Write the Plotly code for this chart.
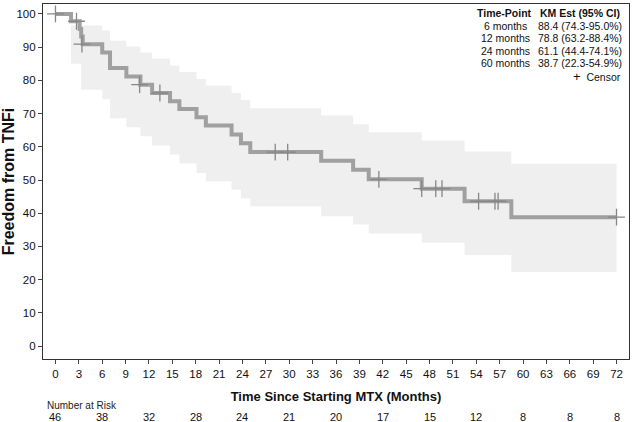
import plotly.graph_objects as go

# --- Kaplan-Meier Schaetzung ---
zeit = [0, 2.0, 3.1, 3.3, 3.5, 6.0, 7.0, 9.1, 10.9, 12.4, 14.7, 15.9, 18.1, 19.3,
        22.6, 23.8, 25.0, 34.1, 38.2, 40.2, 47.0, 52.5, 58.5, 72.0]
ueberleben = [100, 97.8, 95.5, 93.2, 90.9, 88.4, 83.7, 81.2, 78.7, 76.2, 73.7, 71.4,
              68.9, 66.4, 63.7, 61.1, 58.4, 55.8, 53.1, 50.2, 47.4, 43.6, 38.8, 38.8]
ci_unten = [100, 85.0, 85.0, 77.2, 77.2, 74.3, 68.6, 65.9, 63.2, 60.4, 57.7, 55.0,
            52.1, 49.6, 47.1, 44.4, 42.1, 39.1, 36.6, 33.9, 31.1, 27.4, 22.3, 22.3]
ci_oben = [100, 96.5, 96.5, 96.5, 96.5, 95.0, 91.9, 90.2, 88.4, 86.5, 84.5, 82.5,
           80.4, 78.4, 76.2, 74.1, 71.6, 69.4, 66.8, 64.4, 61.9, 58.6, 54.9, 54.9]

# Zensierungen
zens_zeit = [0, 2.7, 3.4, 10.8, 13.4, 28.2, 29.8, 41.5, 47.0, 48.8, 49.6, 54.3, 56.4, 56.8, 72.0]
zens_wert = [100, 97.8, 90.9, 78.7, 76.2, 58.4, 58.4, 50.2, 47.4, 47.4, 47.4, 43.6, 43.6, 43.6, 38.8]

# Number at Risk
risk_zeit = [0, 6, 12, 18, 24, 30, 36, 42, 48, 54, 60, 66, 72]
risk_n = [46, 38, 32, 28, 24, 21, 20, 17, 15, 12, 8, 8, 8]

# Tabelle oben rechts
tab_punkt = ["6 months", "12 months", "24 months", "60 months"]
tab_est = ["88.4 (74.3-95.0%)", "78.8 (63.2-88.4%)", "61.1 (44.4-74.1%)", "38.7 (22.3-54.9%)"]

FONT = "Arial, Liberation Sans, sans-serif"

fig = go.Figure()

# Konfidenzband
fig.add_trace(go.Scatter(x=zeit, y=ci_unten, mode="lines", line=dict(width=0, shape="hv"),
                         hoverinfo="skip", showlegend=False))
fig.add_trace(go.Scatter(x=zeit, y=ci_oben, mode="lines", line=dict(width=0, shape="hv"),
                         fill="tonexty", fillcolor="rgb(239,239,239)",
                         hoverinfo="skip", showlegend=False))

# KM-Kurve
fig.add_trace(go.Scatter(x=zeit, y=ueberleben, mode="lines",
                         line=dict(color="rgb(160,160,160)", width=4, shape="hv"),
                         showlegend=False))

# Zensierungen
fig.add_trace(go.Scatter(x=zens_zeit, y=zens_wert, mode="markers",
                         marker=dict(symbol="cross-thin", size=12,
                                     line=dict(color="rgb(135,135,135)", width=1.3)),
                         showlegend=False))

annot = []
# Tabelle
tab_font = dict(size=10.5, family=FONT, color="#111")
zeilen_y = [0.975, 0.939, 0.904, 0.869, 0.834]
annot.append(dict(x=0.788, y=zeilen_y[0], xref="paper", yref="paper", text="<b>Time-Point</b>",
                  showarrow=False, xanchor="center", yanchor="middle", font=tab_font))
annot.append(dict(x=0.916, y=zeilen_y[0], xref="paper", yref="paper", text="<b>KM Est (95% CI)</b>",
                  showarrow=False, xanchor="center", yanchor="middle", font=tab_font))
for i in range(4):
    annot.append(dict(x=0.790, y=zeilen_y[i + 1], xref="paper", yref="paper", text=tab_punkt[i],
                      showarrow=False, xanchor="center", yanchor="middle", font=tab_font))
    annot.append(dict(x=0.916, y=zeilen_y[i + 1], xref="paper", yref="paper", text=tab_est[i],
                      showarrow=False, xanchor="center", yanchor="middle", font=tab_font))
annot.append(dict(x=0.990, y=0.797, xref="paper", yref="paper", text="<span style='font-size:13px'>+</span>  Censor",
                  showarrow=False, xanchor="right", yanchor="middle", font=tab_font))

# Number at Risk
annot.append(dict(x=-1.3, y=-0.132, xref="x", yref="paper", text="Number at Risk",
                  showarrow=False, xanchor="left", yanchor="middle",
                  font=dict(size=10, family=FONT, color="#222")))
for t, n in zip(risk_zeit, risk_n):
    annot.append(dict(x=t, y=-0.162, xref="x", yref="paper", text=str(n),
                      showarrow=False, xanchor="center", yanchor="middle",
                      font=dict(size=11, family=FONT, color="#111")))

fig.update_layout(
    width=633,
    height=422,
    margin=dict(l=43, r=4, t=4, b=63),
    paper_bgcolor="white",
    plot_bgcolor="white",
    font=dict(family=FONT, size=11.5, color="#111"),
    annotations=annot,
    xaxis=dict(
        range=[-1.6, 73.6],
        tickmode="array",
        tickvals=list(range(0, 73, 3)),
        ticks="outside",
        ticklen=4,
        tickcolor="#444",
        showgrid=False,
        zeroline=False,
        showline=True,
        linecolor="#333",
        linewidth=1.2,
        mirror=True,
        automargin=False,
        title=dict(text="<b>Time Since Starting MTX (Months)</b>", font=dict(size=13), standoff=12),
    ),
    yaxis=dict(
        range=[-3.9, 103.0],
        tickmode="array",
        tickvals=list(range(0, 101, 10)),
        ticks="outside",
        ticklen=4,
        tickcolor="#444",
        showgrid=False,
        zeroline=False,
        showline=True,
        linecolor="#333",
        linewidth=1.2,
        mirror=True,
        automargin=False,
        title=dict(text="<b>Freedom from TNFi</b>", font=dict(size=16), standoff=1),
    ),
)

# Standard-Seitenrand des Browsers entfernen, damit die Grafik bei 0/0 beginnt
fig.write_html("out.html", config={"displayModeBar": False},
               post_script="document.body.style.margin='0px';")
